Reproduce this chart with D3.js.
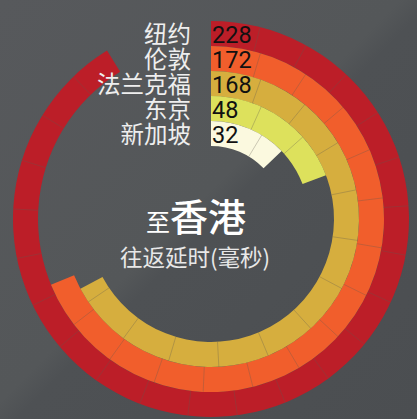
<!DOCTYPE html>
<html>
<head>
<meta charset="utf-8">
<script src="https://cdn.jsdelivr.net/npm/d3@7"></script>
<style>
  body { margin: 0; background: #505356; }
  svg { display: block; }
</style>
</head>
<body>
<svg id="drawing_region"></svg>
<script>
const cities = ["纽约", "伦敦", "法兰克福", "东京", "新加坡"];
const latency = [228, 172, 168, 48, 32];
const ringColors = ["#bc1e28", "#f15e2c", "#d6ae3e", "#dde15c", "#fbf9df"];
const maxLatency = 250;

const width = 417, height = 419;
const cx = 211, cy = 219;

const data = cities.map((c, i) => ({ city: c, value: latency[i], color: ringColors[i] }));

const svg = d3.select('#drawing_region')
    .attr('width', width)
    .attr('height', height);

// background with a soft diagonal shade
const defs = svg.append('defs');
const grad = defs.append('linearGradient')
    .attr('id', 'bg')
    .attr('x1', '0%').attr('y1', '0%')
    .attr('x2', '100%').attr('y2', '100%');
grad.append('stop').attr('offset', '0%').attr('stop-color', '#57595c');
grad.append('stop').attr('offset', '48%').attr('stop-color', '#545759');
grad.append('stop').attr('offset', '52%').attr('stop-color', '#4e5154');
grad.append('stop').attr('offset', '100%').attr('stop-color', '#4b4e51');
svg.append('rect')
    .attr('width', width).attr('height', height)
    .attr('fill', 'url(#bg)');

const chart = svg.append('g')
    .attr('transform', `translate(${cx}, ${cy})`);

const angle = d3.scaleLinear()
    .domain([0, maxLatency])
    .range([0, 2 * Math.PI]);

const radius = d3.scaleBand()
    .domain(cities)
    .range([198, 73])
    .padding(0);

const bw = radius.bandwidth();

const arc = d3.arc()
    .innerRadius(d => radius(d.city))
    .outerRadius(d => radius(d.city) + bw)
    .startAngle(0)
    .endAngle(d => angle(d.value));

chart.selectAll('path.ring')
    .data(data)
    .join('path')
    .attr('class', 'ring')
    .attr('d', arc)
    .attr('fill', d => d.color);

// thin segment lines, roughly equal arc length in every ring
const segLen = 46.5;
data.forEach(d => {
    const r0 = radius(d.city), r1 = r0 + bw;
    const step = segLen / ((r0 + r1) / 2);
    const end = angle(d.value);
    for (let a = step; a < end - 0.02; a += step) {
        const p0 = d3.pointRadial(a, r0);
        const p1 = d3.pointRadial(a, r1);
        chart.append('line')
            .attr('x1', p0[0]).attr('y1', p0[1])
            .attr('x2', p1[0]).attr('y2', p1[1])
            .attr('stroke', 'rgba(95,90,80,0.45)')
            .attr('stroke-width', 0.7);
    }
});

// city names
svg.selectAll('text.city')
    .data(data)
    .join('text')
    .attr('class', 'city')
    .attr('x', 191)
    .attr('y', d => cy - (radius(d.city) + bw / 2) - 1)
    .attr('text-anchor', 'end')
    .attr('dominant-baseline', 'central')
    .attr('font-family', '"Noto Sans CJK SC", sans-serif')
    .attr('font-size', 23.5)
    .attr('fill', '#eeeeee')
    .text(d => d.city);

// values
svg.selectAll('text.val')
    .data(data)
    .join('text')
    .attr('class', 'val')
    .attr('x', 212)
    .attr('y', d => cy - (radius(d.city) + bw / 2) + 1)
    .attr('dominant-baseline', 'central')
    .attr('font-family', 'Roboto, sans-serif')
    .attr('font-size', 23.5)
    .attr('fill', '#111111')
    .text(d => d.value);

// centre title
const title = svg.append('text')
    .attr('x', 196)
    .attr('y', 231)
    .attr('text-anchor', 'middle')
    .attr('font-family', '"Noto Sans CJK SC", sans-serif')
    .attr('fill', '#ffffff');
title.append('tspan').attr('font-size', 24).text('至');
title.append('tspan').attr('font-size', 38).attr('font-weight', 500).text('香港');

svg.append('text')
    .attr('x', 195)
    .attr('y', 266)
    .attr('text-anchor', 'middle')
    .attr('font-family', '"Noto Sans CJK SC", sans-serif')
    .attr('font-size', 22.5)
    .attr('fill', '#e8e8e8')
    .text('往返延时(毫秒)');
</script>
</body>
</html>
